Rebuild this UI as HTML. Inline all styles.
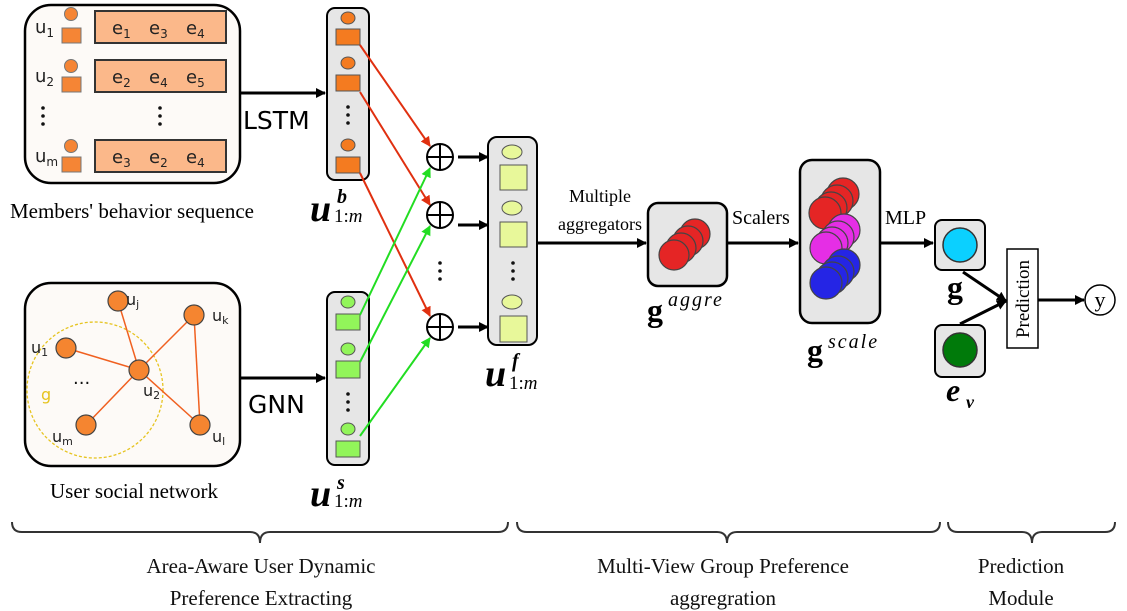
<!DOCTYPE html>
<html><head><meta charset="utf-8"><style>
html,body{margin:0;padding:0;background:#fff;}
svg{display:block;}
.s{font-family:"DejaVu Sans","Liberation Sans",sans-serif;}
.r{font-family:"Liberation Serif",serif;}
.m{font-family:"Liberation Serif",serif;}
</style></head><body>
<svg width="1127" height="611" viewBox="0 0 1127 611" xmlns="http://www.w3.org/2000/svg">
<defs>
<marker id="ab" markerWidth="10" markerHeight="10" refX="9" refY="5" orient="auto" markerUnits="userSpaceOnUse"><path d="M0,0 L10,5 L0,10 z" fill="#000"/></marker>
<marker id="ar" markerWidth="10" markerHeight="10" refX="9" refY="5" orient="auto" markerUnits="userSpaceOnUse"><path d="M0,0 L10,5 L0,10 z" fill="#e03010"/></marker>
<marker id="ag" markerWidth="10" markerHeight="10" refX="9" refY="5" orient="auto" markerUnits="userSpaceOnUse"><path d="M0,0 L10,5 L0,10 z" fill="#22dd22"/></marker>
</defs>

<rect x="25" y="5" width="215" height="178" rx="26" fill="#fdfaf7" stroke="#000" stroke-width="2.5"/>
<g fill="#f58535" stroke="#777" stroke-width="1">
<circle cx="71" cy="14" r="6.5"/><rect x="62" y="28" width="19" height="15"/>
<circle cx="71" cy="66" r="6.5"/><rect x="62" y="77" width="19" height="15"/>
<circle cx="71" cy="146" r="6.5"/><rect x="62" y="157" width="19" height="15"/>
</g>
<g fill="#fbb88a" stroke="#333" stroke-width="2">
<rect x="95" y="11" width="131" height="32"/>
<rect x="95" y="60" width="131" height="32"/>
<rect x="95" y="140" width="131" height="32"/>
</g>
<g class="s" font-size="18" fill="#222">
<text x="35" y="33">u<tspan font-size="12" dy="4">1</tspan></text>
<text x="35" y="82">u<tspan font-size="12" dy="4">2</tspan></text>
<text x="35" y="162">u<tspan font-size="12" dy="4">m</tspan></text>
<text x="112" y="34">e<tspan font-size="12" dy="4">1</tspan></text><text x="149" y="34">e<tspan font-size="12" dy="4">3</tspan></text><text x="186" y="34">e<tspan font-size="12" dy="4">4</tspan></text>
<text x="112" y="83">e<tspan font-size="12" dy="4">2</tspan></text><text x="149" y="83">e<tspan font-size="12" dy="4">4</tspan></text><text x="186" y="83">e<tspan font-size="12" dy="4">5</tspan></text>
<text x="112" y="163">e<tspan font-size="12" dy="4">3</tspan></text><text x="149" y="163">e<tspan font-size="12" dy="4">2</tspan></text><text x="186" y="163">e<tspan font-size="12" dy="4">4</tspan></text>
</g>
<g fill="#111"><circle cx="43" cy="108" r="1.8"/><circle cx="43" cy="116" r="1.8"/><circle cx="43" cy="124" r="1.8"/>
<circle cx="160" cy="108" r="1.8"/><circle cx="160" cy="116" r="1.8"/><circle cx="160" cy="124" r="1.8"/></g>
<text x="132" y="218" class="r" font-size="21" text-anchor="middle">Members' behavior sequence</text>

<line x1="240" y1="93" x2="325" y2="93" stroke="#000" stroke-width="3" marker-end="url(#ab)"/>
<text x="243" y="129" class="s" font-size="25">LSTM</text>

<rect x="327" y="8" width="42" height="172" rx="8" fill="#e6e6e6" stroke="#000" stroke-width="2"/>
<g fill="#f47b20" stroke="#555" stroke-width="1">
<ellipse cx="348" cy="18" rx="7" ry="6"/><rect x="336" y="29" width="24" height="16"/>
<ellipse cx="348" cy="63" rx="7" ry="6"/><rect x="336" y="75" width="24" height="16"/>
<ellipse cx="348" cy="145" rx="7" ry="6"/><rect x="336" y="157" width="24" height="16"/>
</g>
<g fill="#111"><circle cx="348" cy="107" r="1.8"/><circle cx="348" cy="115" r="1.8"/><circle cx="348" cy="123" r="1.8"/></g>
<text x="310" y="221" class="m" font-style="italic" font-weight="bold" font-size="38">u</text>
<text x="337" y="203" class="m" font-style="italic" font-weight="bold" font-size="20">b</text>
<text x="334" y="222" class="m" font-size="19">1:<tspan font-style="italic">m</tspan></text>

<rect x="25" y="283" width="215" height="183" rx="26" fill="#fdfaf7" stroke="#000" stroke-width="2.5"/>
<circle cx="95" cy="390" r="68" fill="none" stroke="#e6c420" stroke-width="1.3" stroke-dasharray="3,2"/>
<g stroke="#f06020" stroke-width="1.5">
<line x1="66" y1="348" x2="139" y2="370"/><line x1="118" y1="301" x2="139" y2="370"/>
<line x1="194" y1="315" x2="139" y2="370"/><line x1="86" y1="425" x2="139" y2="370"/>
<line x1="200" y1="425" x2="139" y2="370"/><line x1="194" y1="315" x2="200" y2="425"/>
</g>
<g fill="#f58530" stroke="#444" stroke-width="1.2">
<circle cx="118" cy="301" r="10"/><circle cx="194" cy="315" r="10"/><circle cx="66" cy="348" r="10"/>
<circle cx="139" cy="370" r="10"/><circle cx="86" cy="425" r="10"/><circle cx="200" cy="425" r="10"/>
</g>
<g class="s" font-size="16" fill="#222">
<text x="126" y="305">u<tspan font-size="11" dy="3">j</tspan></text>
<text x="212" y="321">u<tspan font-size="11" dy="3">k</tspan></text>
<text x="31" y="353">u<tspan font-size="11" dy="3">1</tspan></text>
<text x="143" y="396">u<tspan font-size="11" dy="3">2</tspan></text>
<text x="52" y="442">u<tspan font-size="11" dy="3">m</tspan></text>
<text x="212" y="442">u<tspan font-size="11" dy="3">l</tspan></text>
<text x="41" y="400" fill="#e6c420">g</text>
<text x="73" y="389" font-size="18" fill="#111">···</text>
</g>
<text x="134" y="498" class="r" font-size="21" text-anchor="middle">User social network</text>

<line x1="240" y1="378" x2="325" y2="378" stroke="#000" stroke-width="3" marker-end="url(#ab)"/>
<text x="248" y="413" class="s" font-size="25">GNN</text>

<rect x="327" y="292" width="42" height="173" rx="8" fill="#e6e6e6" stroke="#000" stroke-width="2"/>
<g fill="#92f55a" stroke="#555" stroke-width="1">
<ellipse cx="348" cy="302" rx="7" ry="6"/><rect x="336" y="314" width="24" height="16"/>
<ellipse cx="348" cy="349" rx="7" ry="6"/><rect x="336" y="361" width="24" height="17"/>
<ellipse cx="348" cy="429" rx="7" ry="6"/><rect x="336" y="441" width="24" height="16"/>
</g>
<g fill="#111"><circle cx="348" cy="394" r="1.8"/><circle cx="348" cy="402" r="1.8"/><circle cx="348" cy="410" r="1.8"/></g>
<text x="310" y="506" class="m" font-style="italic" font-weight="bold" font-size="38">u</text>
<text x="337" y="489" class="m" font-style="italic" font-weight="bold" font-size="20">s</text>
<text x="334" y="507" class="m" font-size="19">1:<tspan font-style="italic">m</tspan></text>

<g stroke="#e03010" stroke-width="2">
<line x1="360" y1="45" x2="430" y2="146" marker-end="url(#ar)"/>
<line x1="360" y1="92" x2="430" y2="205" marker-end="url(#ar)"/>
<line x1="360" y1="173" x2="430" y2="316" marker-end="url(#ar)"/>
</g>
<g stroke="#22dd22" stroke-width="2">
<line x1="360" y1="315" x2="430" y2="168" marker-end="url(#ag)"/>
<line x1="360" y1="362" x2="430" y2="226" marker-end="url(#ag)"/>
<line x1="360" y1="436" x2="430" y2="338" marker-end="url(#ag)"/>
</g>
<g fill="#fff" stroke="#000" stroke-width="2">
<circle cx="440" cy="157" r="13"/><circle cx="440" cy="215" r="13"/><circle cx="440" cy="327" r="13"/>
</g>
<g stroke="#000" stroke-width="2">
<line x1="427" y1="157" x2="453" y2="157"/><line x1="440" y1="144" x2="440" y2="170"/>
<line x1="427" y1="215" x2="453" y2="215"/><line x1="440" y1="202" x2="440" y2="228"/>
<line x1="427" y1="327" x2="453" y2="327"/><line x1="440" y1="314" x2="440" y2="340"/>
<line x1="458" y1="157" x2="488" y2="157" stroke-width="3" marker-end="url(#ab)"/>
<line x1="458" y1="225" x2="488" y2="225" stroke-width="3" marker-end="url(#ab)"/>
<line x1="458" y1="327" x2="488" y2="327" stroke-width="3" marker-end="url(#ab)"/>
</g>
<g fill="#111"><circle cx="440" cy="263" r="1.8"/><circle cx="440" cy="271" r="1.8"/><circle cx="440" cy="279" r="1.8"/></g>

<rect x="488" y="137" width="49" height="208" rx="9" fill="#e6e6e6" stroke="#000" stroke-width="2"/>
<g fill="#e8f89a" stroke="#555" stroke-width="1">
<ellipse cx="512" cy="152" rx="10" ry="7"/><rect x="500" y="165" width="27" height="25"/>
<ellipse cx="512" cy="208" rx="10" ry="7"/><rect x="500" y="222" width="27" height="25"/>
<ellipse cx="512" cy="302" rx="10" ry="7"/><rect x="500" y="316" width="27" height="26"/>
</g>
<g fill="#111"><circle cx="513" cy="263" r="1.8"/><circle cx="513" cy="271" r="1.8"/><circle cx="513" cy="279" r="1.8"/></g>
<text x="485" y="386" class="m" font-style="italic" font-weight="bold" font-size="38">u</text>
<text x="512" y="367" class="m" font-style="italic" font-weight="bold" font-size="20">f</text>
<text x="509" y="389" class="m" font-size="19">1:<tspan font-style="italic">m</tspan></text>

<text x="600" y="202" class="r" font-size="18" text-anchor="middle">Multiple</text>
<text x="600" y="230" class="r" font-size="18" text-anchor="middle">aggregators</text>
<line x1="537" y1="243" x2="646" y2="243" stroke="#000" stroke-width="3" marker-end="url(#ab)"/>

<rect x="648" y="203" width="79" height="83" rx="10" fill="#e6e6e6" stroke="#000" stroke-width="2.5"/>
<g fill="#e52525" stroke="#444" stroke-width="1.2">
<circle cx="695" cy="234" r="15"/><circle cx="688" cy="241" r="15"/><circle cx="681" cy="248" r="15"/><circle cx="674" cy="255" r="15"/>
</g>
<text x="647" y="321" class="m" font-weight="bold" font-size="32">g</text>
<text x="668" y="306" class="m" font-style="italic" font-size="20" letter-spacing="2">aggre</text>

<text x="732" y="224" class="r" font-size="20">Scalers</text>
<line x1="727" y1="243" x2="798" y2="243" stroke="#000" stroke-width="3" marker-end="url(#ab)"/>

<rect x="800" y="160" width="80" height="163" rx="12" fill="#e6e6e6" stroke="#000" stroke-width="2.5"/>
<g stroke="#444" stroke-width="1.2">
<g fill="#e52525"><circle cx="843" cy="194" r="16"/><circle cx="837" cy="201" r="16"/><circle cx="831" cy="208" r="16"/><circle cx="825" cy="213" r="16"/></g>
<g fill="#e52ee5"><circle cx="844" cy="230" r="16"/><circle cx="838" cy="237" r="16"/><circle cx="832" cy="243" r="16"/><circle cx="826" cy="248" r="16"/></g>
<g fill="#2525e5"><circle cx="844" cy="265" r="16"/><circle cx="838" cy="272" r="16"/><circle cx="832" cy="278" r="16"/><circle cx="826" cy="283" r="16"/></g>
</g>
<text x="807" y="361" class="m" font-weight="bold" font-size="32">g</text>
<text x="828" y="348" class="m" font-style="italic" font-size="20" letter-spacing="2">scale</text>

<text x="885" y="224" class="r" font-size="20">MLP</text>
<line x1="880" y1="243" x2="933" y2="243" stroke="#000" stroke-width="3" marker-end="url(#ab)"/>

<rect x="935" y="220" width="50" height="50" rx="7" fill="#e6e6e6" stroke="#000" stroke-width="2"/>
<circle cx="960" cy="245" r="17" fill="#0bd0ff" stroke="#333" stroke-width="1.5"/>
<text x="947" y="298" class="m" font-weight="bold" font-size="32">g</text>
<rect x="935" y="325" width="50" height="52" rx="7" fill="#e6e6e6" stroke="#000" stroke-width="2"/>
<circle cx="960" cy="350" r="17" fill="#007a0a" stroke="#333" stroke-width="1.5"/>
<text x="946" y="401" class="m" font-style="italic" font-weight="bold" font-size="32">e</text>
<text x="966" y="408" class="m" font-style="italic" font-weight="bold" font-size="18">v</text>

<line x1="963" y1="272" x2="1006" y2="301" stroke="#000" stroke-width="3" marker-end="url(#ab)"/>
<line x1="960" y1="324" x2="1006" y2="301" stroke="#000" stroke-width="3" marker-end="url(#ab)"/>
<rect x="1007" y="249" width="31" height="99" fill="#fff" stroke="#000" stroke-width="1.5"/>
<text transform="translate(1029,299) rotate(-90)" class="r" font-size="19" text-anchor="middle">Prediction</text>
<line x1="1038" y1="300" x2="1084" y2="300" stroke="#000" stroke-width="3" marker-end="url(#ab)"/>
<circle cx="1100" cy="300" r="15" fill="#fff" stroke="#000" stroke-width="1.5"/>
<text x="1100" y="307" class="r" font-size="22" text-anchor="middle">y</text>

<g fill="none" stroke="#333" stroke-width="2">
<path d="M12,522 Q12,532 22,532 L250,532 Q260,532 260,543 Q260,532 270,532 L498,532 Q508,532 508,522"/>
<path d="M517,522 Q517,532 527,532 L717,532 Q727,532 727,543 Q727,532 737,532 L930,532 Q940,532 940,522"/>
<path d="M948,522 Q948,532 958,532 L1022,532 Q1032,532 1032,543 Q1032,532 1042,532 L1105,532 Q1115,532 1115,522"/>
</g>
<g class="r" font-size="21" text-anchor="middle" fill="#111">
<text x="261" y="573">Area-Aware User Dynamic</text>
<text x="261" y="605">Preference Extracting</text>
<text x="723" y="573">Multi-View Group Preference</text>
<text x="723" y="605">aggregration</text>
<text x="1021" y="573">Prediction</text>
<text x="1021" y="605">Module</text>
</g>
</svg>
</body></html>
